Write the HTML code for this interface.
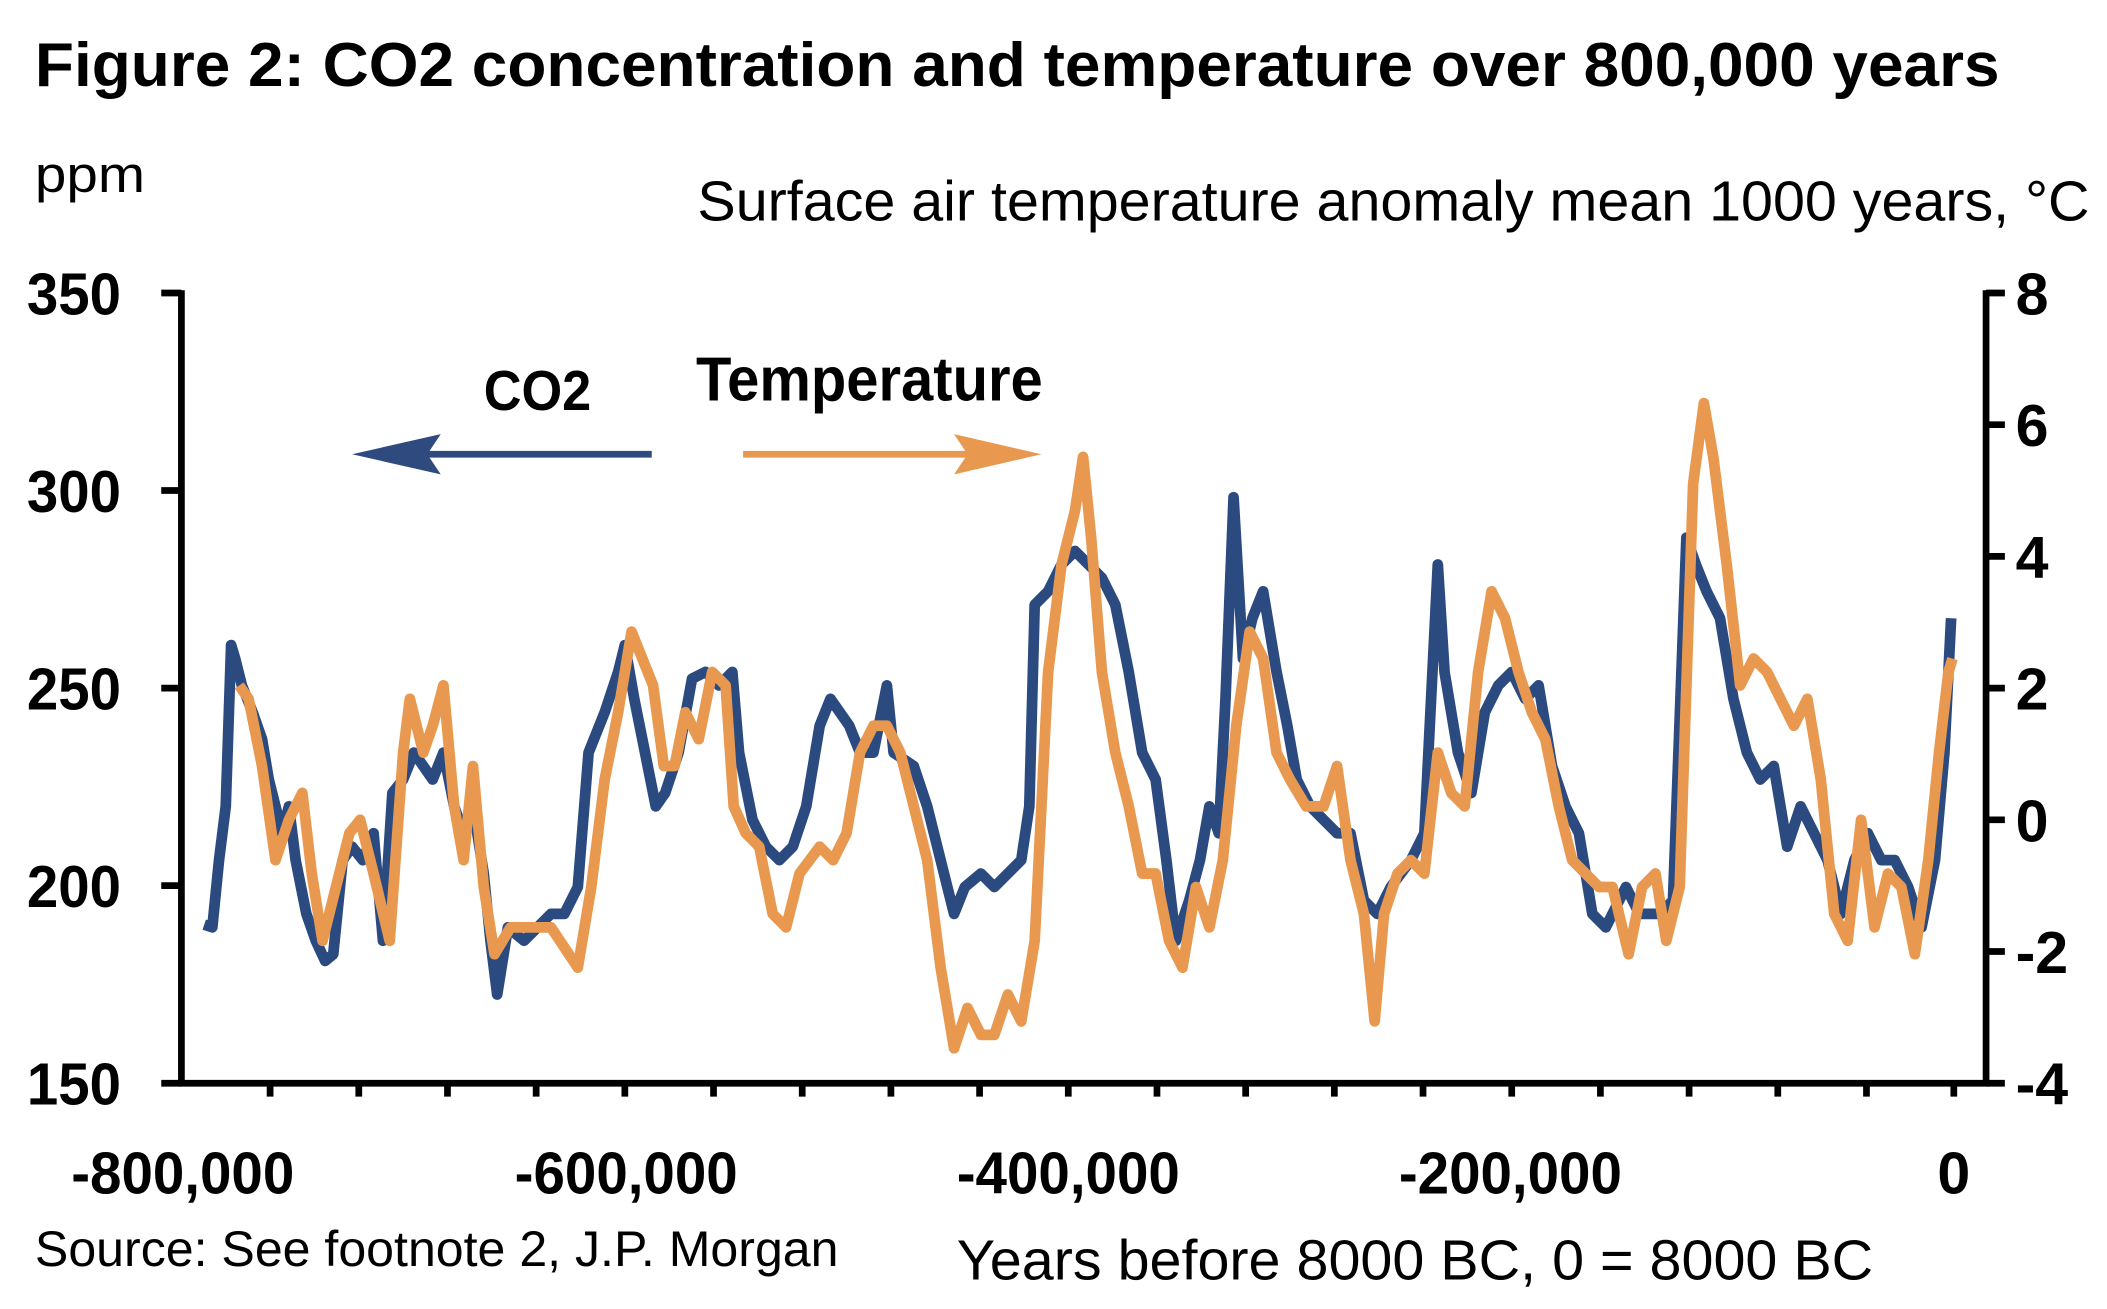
<!DOCTYPE html>
<html><head><meta charset="utf-8"><style>html,body{margin:0;padding:0;background:#fff}svg{display:block}</style></head>
<body>
<svg width="2107" height="1309" viewBox="0 0 1568 974" preserveAspectRatio="none" xmlns="http://www.w3.org/2000/svg" font-family="Liberation Sans, Arial, sans-serif">
<rect width="1568" height="974" fill="#fff"/>
<text x="26" y="64" font-size="46" font-weight="bold" textLength="1462" lengthAdjust="spacingAndGlyphs">Figure 2: CO2 concentration and temperature over 800,000 years</text>
<text x="26" y="143" font-size="38" textLength="82" lengthAdjust="spacingAndGlyphs">ppm</text>
<text x="519" y="164" font-size="42" textLength="1036" lengthAdjust="spacingAndGlyphs">Surface air temperature anomaly mean 1000 years, °C</text>
<g font-size="44" font-weight="bold">
<text x="20" y="234" textLength="70" lengthAdjust="spacingAndGlyphs">350</text><text x="20" y="381" textLength="70" lengthAdjust="spacingAndGlyphs">300</text><text x="20" y="528" textLength="70" lengthAdjust="spacingAndGlyphs">250</text><text x="20" y="675" textLength="70" lengthAdjust="spacingAndGlyphs">200</text><text x="20" y="822" textLength="70" lengthAdjust="spacingAndGlyphs">150</text>
</g>
<g font-size="44" font-weight="bold">
<text x="1500" y="234">8</text><text x="1500" y="332">6</text><text x="1500" y="430">4</text><text x="1500" y="528">2</text><text x="1500" y="626">0</text><text x="1500" y="724">-2</text><text x="1500" y="822">-4</text>
</g>
<g font-size="44" font-weight="bold" text-anchor="middle">
<text x="136" y="888" textLength="166" lengthAdjust="spacingAndGlyphs">-800,000</text><text x="466" y="888" textLength="166" lengthAdjust="spacingAndGlyphs">-600,000</text><text x="795" y="888" textLength="166" lengthAdjust="spacingAndGlyphs">-400,000</text><text x="1124" y="888" textLength="166" lengthAdjust="spacingAndGlyphs">-200,000</text><text x="1454" y="888">0</text>
</g>
<text x="26" y="942" font-size="37" textLength="598" lengthAdjust="spacingAndGlyphs">Source: See footnote 2, J.P. Morgan</text>
<text x="712" y="952" font-size="42" textLength="682" lengthAdjust="spacingAndGlyphs">Years before 8000 BC, 0 = 8000 BC</text>
<g stroke="#000" stroke-width="5" fill="none">
<path d="M135,216V806H1478V216"/>
<path d="M120,218H135M120,365H135M120,512H135M120,659H135M120,806H135"/>
<path d="M1478,218H1492M1478,316H1492M1478,414H1492M1478,512H1492M1478,610H1492M1478,708H1492M1478,806H1492"/>
<path d="M201,806v10M267,806v10M333,806v10M399,806v10M465,806v10M531,806v10M597,806v10M663,806v10M729,806v10M795,806v10M861,806v10M927,806v10M993,806v10M1059,806v10M1125,806v10M1191,806v10M1257,806v10M1323,806v10M1389,806v10M1454,806v10"/>
</g>
<text x="360" y="305" font-size="42" font-weight="bold" textLength="80" lengthAdjust="spacingAndGlyphs">CO2</text>
<text x="518" y="298" font-size="46" font-weight="bold" textLength="258" lengthAdjust="spacingAndGlyphs">Temperature</text>
<line x1="485" y1="338" x2="300" y2="338" stroke="#2e4a7f" stroke-width="5"/>
<polygon points="262,338 328,323 318,338 328,353" fill="#2e4a7f"/>
<line x1="553" y1="338" x2="735" y2="338" stroke="#e8994f" stroke-width="5"/>
<polygon points="775,338 710,323 720,338 710,353" fill="#e8994f"/>
<polyline fill="none" stroke="#2b4a80" stroke-width="8" stroke-linejoin="round" points="152,688 158,690 163,640 168,600 172,480 175,490 180,510 188,530 195,550 200,580 205,600 210,620 215,600 220,640 228,680 235,700 242,715 248,710 255,640 262,630 270,640 278,620 285,700 292,590 300,580 308,560 315,570 322,580 330,560 338,600 345,620 352,600 360,650 365,700 370,740 378,690 390,700 400,690 410,680 420,680 430,660 438,560 450,530 460,500 465,480 472,520 480,560 488,600 495,590 505,560 515,505 525,500 535,510 545,500 550,560 560,610 570,630 580,640 590,630 600,600 610,540 618,520 625,530 632,540 640,560 650,560 660,510 665,560 680,570 690,600 700,640 710,680 718,660 730,650 740,660 750,650 760,640 766,600 770,450 780,440 790,420 800,410 810,420 820,430 830,450 840,500 850,560 860,580 868,640 875,700 885,670 893,640 900,600 907,620 912,520 918,370 925,490 932,460 940,440 950,500 958,540 965,580 975,600 985,610 995,620 1005,620 1015,670 1025,680 1035,660 1050,640 1060,620 1065,520 1070,420 1075,500 1085,560 1095,590 1105,530 1115,510 1125,500 1135,520 1145,510 1155,570 1165,600 1175,620 1185,680 1195,690 1210,660 1220,680 1235,680 1245,670 1255,400 1262,420 1270,440 1280,460 1290,520 1300,560 1310,580 1320,570 1330,630 1340,600 1350,620 1360,640 1370,680 1380,640 1390,620 1400,640 1410,640 1420,660 1430,690 1440,640 1447,560 1452,460"/>
<polyline fill="none" stroke="#e8994f" stroke-width="8" stroke-linejoin="round" points="178,510 185,520 195,570 205,640 215,610 225,590 232,650 240,700 250,660 260,620 268,610 278,650 290,700 300,560 305,520 315,560 322,540 330,510 338,600 345,640 352,570 360,660 368,710 380,690 395,690 410,690 430,720 440,660 450,580 460,530 470,470 478,490 486,510 494,570 502,570 510,530 520,550 530,500 540,510 546,600 555,620 565,630 575,680 585,690 595,650 610,630 620,640 630,620 640,560 650,540 660,540 670,560 680,600 690,640 700,720 710,780 720,750 730,770 740,770 750,740 760,760 770,700 780,500 790,420 800,380 806,340 812,400 820,500 830,560 840,600 850,650 860,650 870,700 880,720 890,660 900,690 910,640 920,540 930,470 940,490 950,560 960,580 972,600 985,600 995,570 1005,640 1015,680 1023,760 1030,680 1040,650 1050,640 1060,650 1070,560 1080,590 1090,600 1100,500 1110,440 1120,460 1130,500 1140,530 1150,550 1160,600 1170,640 1180,650 1190,660 1200,660 1212,710 1222,660 1232,650 1240,700 1250,660 1260,360 1268,300 1275,340 1285,420 1295,510 1305,490 1315,500 1325,520 1335,540 1345,520 1355,580 1365,680 1375,700 1385,610 1395,690 1405,650 1415,660 1425,710 1435,640 1443,560 1450,500 1453,490"/>
</svg>
</body></html>
